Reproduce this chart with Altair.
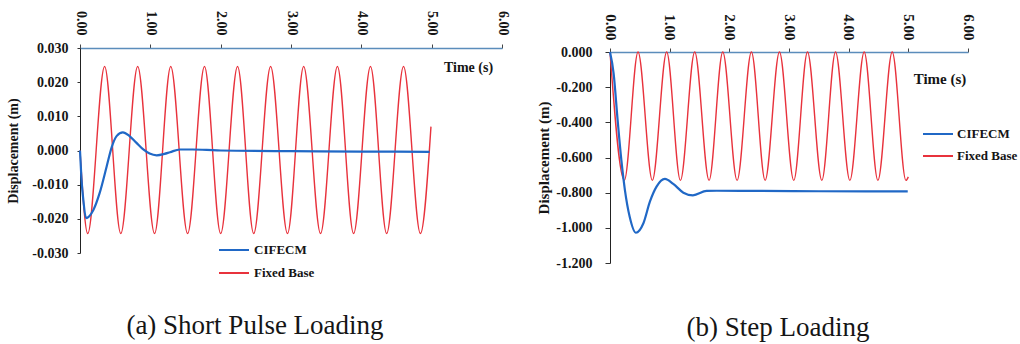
import altair as alt
import pandas as pd

BLUE = "#2068c6"
RED = "#e8323c"
SERIES = ["CIFECM", "Fixed Base"]

# ---------------- (a) Short Pulse Loading ----------------
a_fixed_t = [0.00, 0.11, 0.35, 0.58, 0.82, 1.06, 1.29, 1.53, 1.77, 2.00, 2.24,
             2.47, 2.71, 2.95, 3.18, 3.42, 3.66, 3.89, 4.13, 4.36, 4.60, 4.84, 4.99]
a_fixed_y = [0.0000, -0.0243, 0.0246, -0.0243, 0.0246, -0.0243, 0.0246, -0.0243,
             0.0246, -0.0243, 0.0246, -0.0243, 0.0246, -0.0243, 0.0246, -0.0243,
             0.0246, -0.0243, 0.0246, -0.0243, 0.0246, -0.0243, 0.0070]
a_cif_t = [0.00, 0.02, 0.05, 0.085, 0.19, 0.28, 0.38, 0.45, 0.52, 0.61, 0.70,
           0.80, 0.90, 0.99, 1.09, 1.20, 1.28, 1.42, 1.60, 1.80, 2.00, 3.00,
           4.00, 4.97]
a_cif_y = [0.0000, -0.0080, -0.0150, -0.0198, -0.0174, -0.0124, -0.0046, 0.0009,
           0.0042, 0.0053, 0.0043, 0.0023, 0.0003, -0.0009, -0.0014, -0.0010,
           -0.0005, 0.0003, 0.0003, 0.0002, 0.0000, -0.0002, -0.0003, -0.0004]

# ---------------- (b) Step Loading ----------------
b_fixed_t = [0.00, 0.24, 0.47, 0.71, 0.95, 1.18, 1.42, 1.66, 1.89, 2.13, 2.37,
             2.60, 2.84, 3.08, 3.31, 3.55, 3.78, 4.02, 4.26, 4.49, 4.73, 4.96, 5.00]
b_fixed_y = [0.00, -0.73, 0.00, -0.73, 0.00, -0.73, 0.00, -0.73, 0.00, -0.73,
             0.00, -0.73, 0.00, -0.73, 0.00, -0.73, 0.00, -0.73, 0.00, -0.73,
             0.00, -0.73, -0.71]
b_cif_t = [0.00, 0.06, 0.13, 0.19, 0.25, 0.33, 0.435, 0.56, 0.67, 0.78, 0.92,
           1.06, 1.23, 1.39, 1.62, 1.79, 2.50, 3.50, 4.99]
b_cif_y = [0.000, -0.120, -0.396, -0.614, -0.785, -0.937, -1.028, -0.974, -0.850,
           -0.766, -0.722, -0.750, -0.800, -0.815, -0.790, -0.789, -0.790, -0.792,
           -0.793]

a_yticks = [-0.03, -0.02, -0.01, 0.0, 0.01, 0.02, 0.03]
b_yticks = [-1.2, -1.0, -0.8, -0.6, -0.4, -0.2, 0.0]
x_ticks = [0, 1, 2, 3, 4, 5, 6]


def frame(t, y, name):
    return pd.DataFrame({"t": t, "y": y, "series": name})


df_a_fixed = frame(a_fixed_t, a_fixed_y, "Fixed Base")
df_a_cif = frame(a_cif_t, a_cif_y, "CIFECM")
df_b_fixed = frame(b_fixed_t, b_fixed_y, "Fixed Base")
df_b_cif = frame(b_cif_t, b_cif_y, "CIFECM")

FONT = "Liberation Serif"
TXT = "#151515"
LABEL_EXPR = "(datum.value < 0 ? '-' : '') + format(abs(datum.value), '.3f')"


def panel(df_fixed, df_cif, w, h, yrange, ydom, yticks, xaxis_kw, yaxis_kw,
          legend_kw, caption, cap_dx, cap_offset, fs):
    x = alt.X("t:Q", scale=alt.Scale(domain=[0, 6], nice=False),
              axis=alt.Axis(orient="top", values=x_ticks, format=".2f",
                            labelAngle=90, labelAlign="right", labelBaseline="middle",
                            labelFont=FONT, labelFontWeight="bold", labelFontSize=fs,
                            labelColor=TXT, domainColor="#5b8dbb", domainWidth=1.5,
                            tickColor="#444", tickSize=4, grid=False,
                            title="Time (s)", titleAngle=0, titleAlign="center",
                            titleBaseline="middle", titleFont=FONT,
                            titleFontWeight="bold", titleFontSize=fs, titleColor=TXT,
                            **xaxis_kw))
    y = alt.Y("y:Q", scale=alt.Scale(domain=ydom, range=yrange, nice=False, zero=False),
              axis=alt.Axis(values=yticks, labelExpr=LABEL_EXPR,
                            labelFont=FONT, labelFontWeight="bold", labelFontSize=14,
                            labelColor=TXT, domainColor="#222", domainWidth=1,
                            tickColor="#333", grid=False,
                            title="Displacement (m)", titleFont=FONT,
                            titleFontWeight="bold", titleColor=TXT,
                            **yaxis_kw))
    leg = alt.Legend(title=None, orient="none", symbolType="M-2,0H2", symbolSize=225,
                     symbolStrokeWidth=2, labelFont=FONT, labelFontWeight="bold",
                     labelFontSize=13, labelColor=TXT, padding=0, **legend_kw)
    color = alt.Color("series:N", scale=alt.Scale(domain=SERIES, range=[BLUE, RED]),
                      legend=leg)
    red = alt.Chart(df_fixed).mark_line(interpolate="monotone", strokeWidth=1.4).encode(
        x=x, y=y, color=color, order="t:Q")
    blue = alt.Chart(df_cif).mark_line(interpolate="monotone", strokeWidth=2.2).encode(
        x=x, y=y, color=color, order="t:Q")
    return alt.layer(red, blue).properties(
        width=w, height=h,
        title=alt.TitleParams(caption, orient="bottom", anchor="middle", font=FONT,
                              fontSize=27, fontWeight="normal", color=TXT,
                              dx=cap_dx, offset=cap_offset))


left = panel(df_a_fixed, df_a_cif, 422, 205, [205, 0], [-0.03, 0.03], a_yticks,
             dict(labelPadding=9, titleX=388, titleY=19),
             dict(tickSize=3, labelPadding=9, titlePadding=11, titleFontSize=14),
             dict(legendX=145.5, legendY=193.5, labelOffset=11.5, rowPadding=7),
             "(a) Short Pulse Loading", -36, 32, 14)

right = panel(df_b_fixed, df_b_cif, 358, 215, [215, 4], [-1.2, 0.0], b_yticks,
              dict(labelPadding=8, titleX=329.5, titleY=26, offset=-4),
              dict(tickSize=5, labelPadding=13, titlePadding=4, titleFontSize=15),
              dict(legendX=319.5, legendY=77.5, labelOffset=10.5, rowPadding=6),
              "(b) Step Loading", -11, 45, 15)

chart = alt.hconcat(left, right, spacing=26).resolve_scale(
    color="independent", x="independent", y="independent"
).properties(
    padding={"left": 6, "top": 10, "right": 0, "bottom": 0},
    background="white",
).configure_view(stroke="transparent")

chart.save("out.html", embed_options={"renderer": "svg", "actions": False})
